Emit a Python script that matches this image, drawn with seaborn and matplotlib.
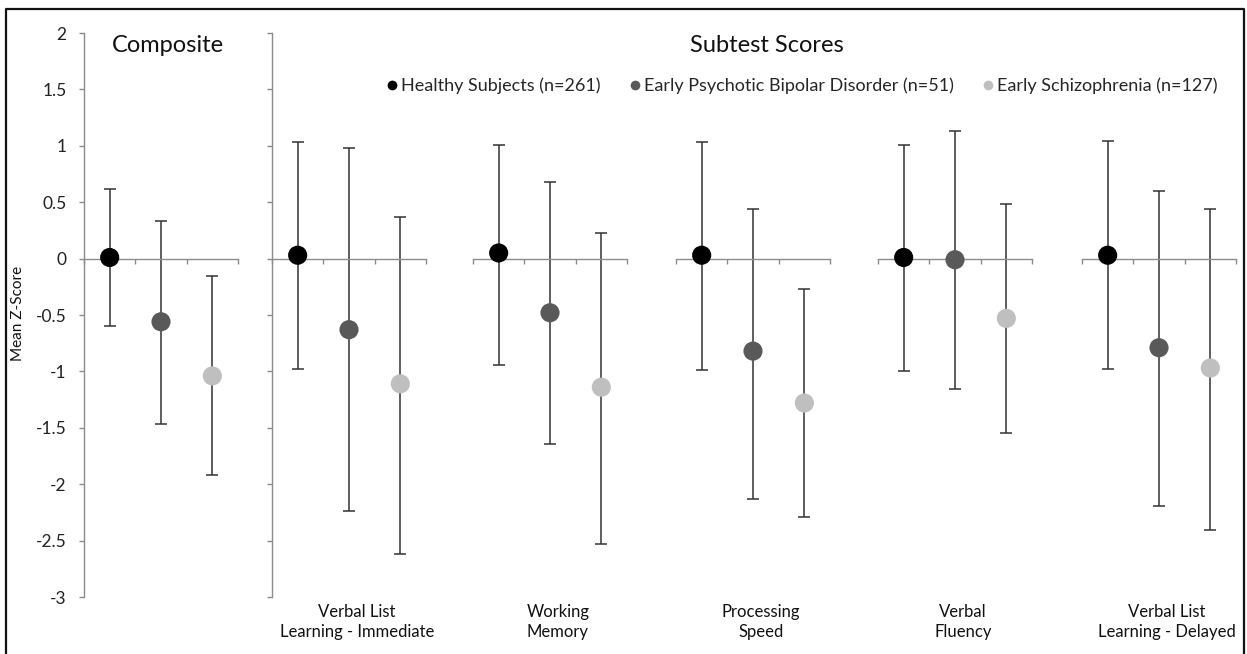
import numpy as np
import pandas as pd
import seaborn as sns
import matplotlib.pyplot as plt
from matplotlib.lines import Line2D

# Data
panels = ['Composite', 'Verbal List\nLearning - Immediate', 'Working\nMemory',
          'Processing\nSpeed', 'Verbal\nFluency', 'Verbal List\nLearning - Delayed']
groups = ['Healthy Subjects (n=261)', 'Early Psychotic Bipolar Disorder (n=51)',
          'Early Schizophrenia (n=127)']

healthy_mean = [0.01, 0.03, 0.05, 0.03, 0.01, 0.03]
healthy_hi = [0.62, 1.03, 1.01, 1.03, 1.01, 1.04]
healthy_lo = [-0.60, -0.98, -0.94, -0.99, -1.00, -0.98]

bipolar_mean = [-0.56, -0.63, -0.48, -0.82, -0.01, -0.79]
bipolar_hi = [0.33, 0.98, 0.68, 0.44, 1.13, 0.60]
bipolar_lo = [-1.47, -2.24, -1.64, -2.13, -1.16, -2.19]

schizo_mean = [-1.04, -1.11, -1.14, -1.28, -0.53, -0.97]
schizo_hi = [-0.15, 0.37, 0.23, -0.27, 0.48, 0.44]
schizo_lo = [-1.92, -2.62, -2.53, -2.29, -1.55, -2.41]

colors = ['#000000', '#595959', '#bfbfbf']
y_ticks = [2, 1.5, 1, 0.5, 0, -0.5, -1, -1.5, -2, -2.5, -3]

rows = []
for g, (m, hi, lo) in enumerate([(healthy_mean, healthy_hi, healthy_lo),
                                 (bipolar_mean, bipolar_hi, bipolar_lo),
                                 (schizo_mean, schizo_hi, schizo_lo)]):
    for p in range(len(panels)):
        rows.append({'panel': p, 'group': groups[g], 'pos': g,
                     'mean': m[p], 'hi': hi[p], 'lo': lo[p]})
df = pd.DataFrame(rows)

sns.set_style('white')
plt.rcParams['font.family'] = ['Lato', 'DejaVu Sans']
plt.rcParams['axes.unicode_minus'] = False

W, H = 1247, 654
fig = plt.figure(figsize=(W / 100, H / 100), dpi=100)

axis_grey = '#8c8c8c'
y_top, y_bot = 33, 597
lefts = [84, 272, 473, 676, 878, 1082]
width = 154

for p, left in enumerate(lefts):
    ax = fig.add_axes([left / W, (H - y_bot) / H, width / W, (y_bot - y_top) / H])
    d = df[df['panel'] == p]
    ax.errorbar(d['pos'], d['mean'], yerr=[d['mean'] - d['lo'], d['hi'] - d['mean']],
                fmt='none', ecolor='#333333', elinewidth=1.1, capsize=4, capthick=1.1,
                zorder=2)
    sns.scatterplot(data=d, x='pos', y='mean', hue='group', palette=colors,
                    hue_order=groups, s=190, linewidth=0, legend=False, ax=ax, zorder=3)
    ax.set_xlim(-0.5, 2.5)
    ax.set_ylim(-3, 2)
    ax.set_xlabel('')
    ax.set_ylabel('')
    for s in ['top', 'right']:
        ax.spines[s].set_visible(False)
    ax.spines['bottom'].set_position(('data', 0))
    ax.spines['bottom'].set_color(axis_grey)
    ax.spines['bottom'].set_linewidth(1.0)
    ax.set_xticks([-0.5, 0.5, 1.5, 2.5])
    ax.set_xticklabels([])
    ax.tick_params(axis='x', bottom=True, direction='out', length=3.5, width=1.0,
                   color=axis_grey)
    ax.patch.set_alpha(0)
    if p <= 1:
        ax.spines['left'].set_color(axis_grey)
        ax.spines['left'].set_linewidth(1.0)
        ax.set_yticks(y_ticks)
        ax.tick_params(axis='y', left=True, direction='out', length=3.5, width=1.0,
                       color=axis_grey, labelsize=12.5, labelcolor='#222222', pad=9)
        ax.set_yticklabels([('%g' % t) for t in y_ticks])
        if p == 1:
            ax.set_yticklabels([])
    else:
        ax.spines['left'].set_visible(False)
        ax.set_yticks([])
    if p > 0:
        ax.text(0.5 + 8 / width, -0.012, panels[p], transform=ax.transAxes,
                ha='center', va='top', fontsize=12, color='#111111', linespacing=1.3)

fig.text(168 / W, 1 - 46 / H, 'Composite', ha='center', va='center', fontsize=17,
         color='#111111')
fig.text(767 / W, 1 - 45 / H, 'Subtest Scores', ha='center', va='center', fontsize=17,
         color='#111111')
fig.text(18 / W, 1 - 313 / H, 'Mean Z-Score', rotation=90, ha='center', va='center',
         fontsize=11, color='#111111')

handles = [Line2D([], [], marker='o', linestyle='none', markersize=7,
                  markerfacecolor=c, markeredgewidth=0) for c in colors]
fig.legend(handles, groups, loc='center', bbox_to_anchor=(801 / W, 1 - 86 / H),
           ncol=3, frameon=False, fontsize=13, handletextpad=0.1, columnspacing=1.5,
           handlelength=0.8)

# frame around the picture
fx0, fx1, fy = 6 / W, 1244 / W, 1 - 9 / H
fig.add_artist(Line2D([fx0, fx0, fx1, fx1], [0, fy, fy, 0], color='#111111',
                      linewidth=1.6, transform=fig.transFigure))

fig.savefig('out.png', dpi=100)
